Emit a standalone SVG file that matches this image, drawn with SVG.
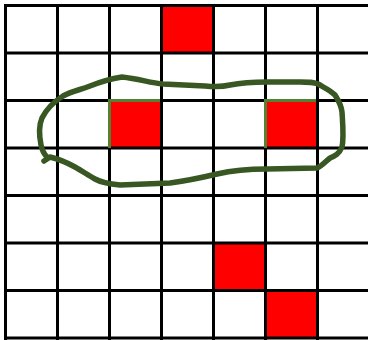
<svg xmlns="http://www.w3.org/2000/svg" width="368" height="340" viewBox="0 0 368 340">
  <style>
    .cell { fill: #ff0000; }
    .grid line { stroke: #000000; stroke-width: 3; }
    .edge { stroke: #548235; stroke-width: 3; fill: none; }
    .loop { stroke: #385723; stroke-width: 5.5; fill: none; stroke-linejoin: round; stroke-linecap: round; }
  </style>
  <rect x="0" y="0" width="368" height="340" fill="#ffffff"/>
  <g id="cells">
    <rect class="cell" x="161.5" y="5.5" width="52" height="47.5"/>
    <rect class="cell" x="109.5" y="100.5" width="52" height="47.5"/>
    <rect class="cell" x="265.5" y="100.5" width="52" height="47.5"/>
    <rect class="cell" x="213.5" y="243" width="52" height="47.5"/>
    <rect class="cell" x="265.5" y="290.5" width="52" height="47.5"/>
  </g>
  <g id="grid" class="grid">
    <line x1="5.5" y1="4" x2="5.5" y2="340"/>
    <line x1="57.5" y1="4" x2="57.5" y2="340"/>
    <line x1="109.5" y1="4" x2="109.5" y2="340"/>
    <line x1="161.5" y1="4" x2="161.5" y2="340"/>
    <line x1="213.5" y1="4" x2="213.5" y2="340"/>
    <line x1="265.5" y1="4" x2="265.5" y2="340"/>
    <line x1="317.5" y1="4" x2="317.5" y2="340"/>
    <line x1="4" y1="5.5" x2="368" y2="5.5"/>
    <line x1="4" y1="53" x2="368" y2="53"/>
    <line x1="4" y1="100.5" x2="368" y2="100.5"/>
    <line x1="4" y1="148" x2="368" y2="148"/>
    <line x1="4" y1="195.5" x2="368" y2="195.5"/>
    <line x1="4" y1="243" x2="368" y2="243"/>
    <line x1="4" y1="290.5" x2="368" y2="290.5"/>
    <line x1="4" y1="338" x2="368" y2="338"/>
  </g>
  <g id="edges">
    <path class="edge" d="M109.5,148 L109.5,100.5 L160,100.5"/>
    <path class="edge" d="M265.5,148 L265.5,100.5 L316,100.5"/>
  </g>
  <g id="loop">
    <path class="loop" d="M44,161 L50,157 C58,159 66,162 75,167 C82,171 88,175 95,179 C102,183 110,184 120,185 L170,183 C185,181 200,178 217,174 C230,171 245,169 267,169 L317,168 C322,166 325,162 330,158 C335,156 339,154 342,147 C344,138 343,128 342,112 C341,104 338,100 335,95 C330,90 325,88 318,84 C313,82 310,82 300,82 L267,82 C250,82 240,83 230,85 C222,87 215,87 205,86 L163,84 C150,83 140,79 122,77 C110,79 100,82 90,86 C80,90 72,91 63,96 C55,101 47,108 42,118 C39,125 39,135 41,145 C42,150 44,154 47,157"/>
  </g>
</svg>
